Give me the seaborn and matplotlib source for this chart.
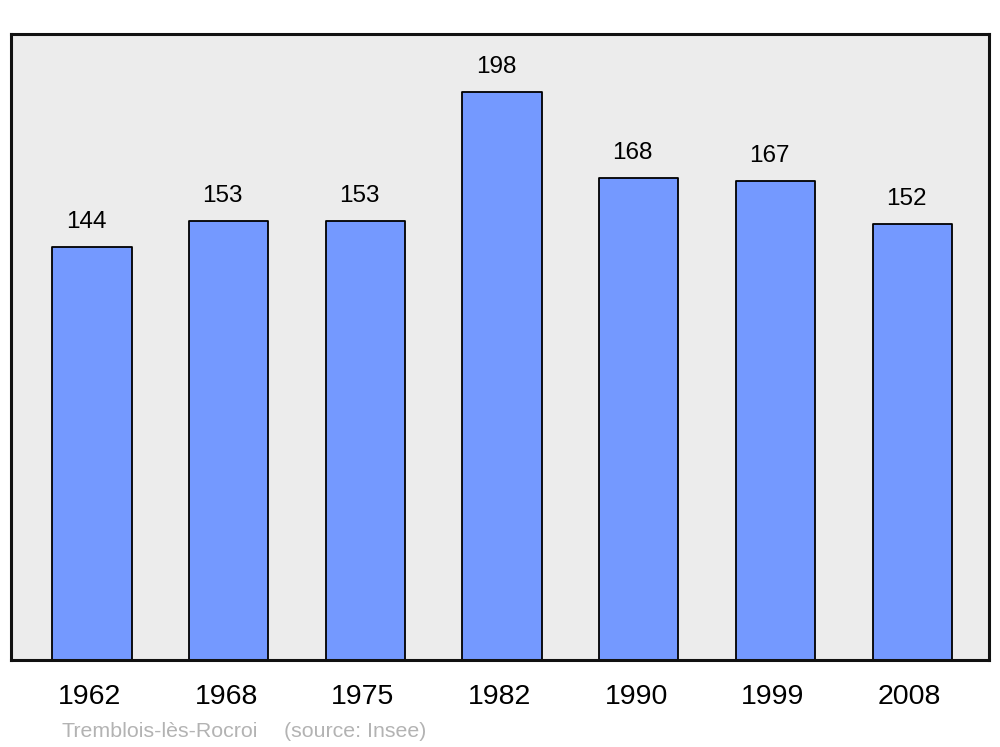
import matplotlib
matplotlib.use("Agg")
import matplotlib.pyplot as plt
import seaborn as sns

# data
years = ["1962", "1968", "1975", "1982", "1990", "1999", "2008"]
population = [144, 153, 153, 198, 168, 167, 152]
commune = "Tremblois-lès-Rocroi"
source = "(source: Insee)"

sns.set_style("white")
plt.rcParams['font.family'] = ['Liberation Sans', 'DejaVu Sans']
plt.rcParams['text.color'] = 'black'
plt.rcParams['xtick.color'] = 'black'

fig = plt.figure(figsize=(10, 7.47), dpi=100)
ax = fig.add_axes([0.011, 0.1165, 0.978, 0.838])
ax.set_facecolor("#ececec")

sns.barplot(x=years, y=population, color="#7499ff", saturation=1,
            edgecolor="black", linewidth=1.3, width=0.58, ax=ax)
for p in ax.patches:
    p.set_joinstyle("round")

# value labels above bars (slightly left of centre, like the original)
for i, v in enumerate(population):
    ax.text(i - 0.044, v + 6.6, str(v), ha="center", va="baseline",
            fontsize=17.5, color="black")

ax.set_xlim(-0.593, 6.562)
ax.set_ylim(0, 218.2)
ax.set_yticks([])
ax.set_xticks([i - 0.018 for i in range(len(years))], years)
ax.tick_params(axis="x", length=0, labelsize=20.5, pad=17, colors="black")
ax.set_xlabel("")
ax.set_ylabel("")
for s in ax.spines.values():
    s.set_linewidth(2.2)
    s.set_color("#111111")
    s.set_visible(True)

fig.text(0.061, 0.0134, commune, color="#b3b3b3", fontsize=15.4, va="baseline")
fig.text(0.284, 0.0134, source, color="#b3b3b3", fontsize=15.4, va="baseline")

fig.savefig("out.png", dpi=100, facecolor="white")
